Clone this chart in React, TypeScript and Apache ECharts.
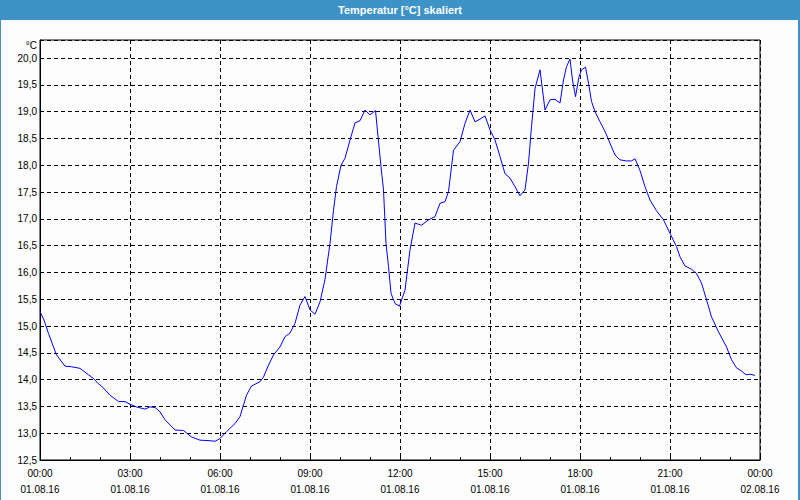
import React, { useEffect, useRef } from "react";
import * as echarts from "echarts";

const titleText = "Temperatur [°C] skaliert";
const unitText = "°C";

// minutes since 01.08.16 00:00
const minutes = [
  0, 8, 17, 27, 33, 50, 63, 80, 97, 107, 117, 123, 140, 157, 170, 180, 193, 210, 220, 230,
  240, 250, 270, 287, 303, 320, 340, 350, 360, 373, 390, 400, 407, 413, 423, 440, 447, 457,
  467, 480, 490, 500, 510, 520, 530, 540, 550, 560, 570, 580, 587, 593, 602, 610, 620, 630,
  640, 650, 660, 671, 682, 687, 692, 697, 702, 710, 719, 730, 740, 750, 763, 777, 790, 800,
  810, 817, 827, 840, 850, 860, 870, 880, 890, 900, 910, 920, 930, 940, 950, 960, 970, 977,
  983, 990, 1000, 1010, 1020, 1030, 1040, 1047, 1053, 1060, 1065, 1071, 1078, 1083, 1091,
  1097, 1103, 1110, 1120, 1130, 1140, 1150, 1160, 1173, 1183, 1190, 1200, 1210, 1220, 1233,
  1247, 1260, 1273, 1280, 1290, 1303, 1313, 1323, 1333, 1343, 1357, 1373, 1383, 1393, 1403,
  1412, 1420, 1430,
];

const temps = [
  15.27, 15.11, 14.86, 14.61, 14.46, 14.25, 14.24, 14.21, 14.09, 14.02, 13.92, 13.88, 13.71,
  13.59, 13.59, 13.54, 13.49, 13.45, 13.49, 13.48, 13.4, 13.25, 13.06, 13.05, 12.93, 12.87,
  12.86, 12.85, 12.9, 13.03, 13.18, 13.31, 13.53, 13.71, 13.88, 13.96, 14.05, 14.27, 14.46,
  14.61, 14.8, 14.87, 15.05, 15.39, 15.55, 15.3, 15.22, 15.45, 15.87, 16.54, 17.16, 17.6, 18.0,
  18.13, 18.47, 18.79, 18.83, 19.03, 18.94, 19.02, 17.97, 17.54, 16.54, 16.11, 15.61, 15.42,
  15.37, 15.67, 16.42, 16.92, 16.88, 16.98, 17.04, 17.29, 17.32, 17.51, 18.28, 18.44, 18.78,
  19.03, 18.81, 18.86, 18.92, 18.66, 18.47, 18.16, 17.84, 17.76, 17.6, 17.43, 17.54, 18.04,
  18.72, 19.43, 19.78, 19.03, 19.22, 19.23, 19.16, 19.59, 19.84, 19.98, 19.59, 19.28, 19.65,
  19.78, 19.83, 19.53, 19.19, 19.0, 18.81, 18.63, 18.41, 18.19, 18.1, 18.08, 18.08, 18.12,
  17.9, 17.6, 17.35, 17.15, 16.98, 16.73, 16.48, 16.29, 16.12, 16.06, 15.98, 15.8, 15.49,
  15.17, 14.89, 14.61, 14.37, 14.22, 14.16, 14.09, 14.1, 14.08,
];

const xTickTimes = ["00:00", "03:00", "06:00", "09:00", "12:00", "15:00", "18:00", "21:00", "00:00"];
const xTickDates = [
  "01.08.16", "01.08.16", "01.08.16", "01.08.16", "01.08.16",
  "01.08.16", "01.08.16", "01.08.16", "02.08.16",
];

const FONT = "'Liberation Sans', Arial, sans-serif";

export default function App() {
  const ref = useRef<HTMLDivElement>(null);

  useEffect(() => {
    if (!ref.current) return;
    const chart = echarts.init(ref.current, null, { renderer: "svg" });
    const data = minutes.map((m, i) => [m, temps[i]]);
    chart.setOption({
      animation: false,
      backgroundColor: "#fcfdfc",
      grid: {
        left: 40,
        right: 40,
        top: 40,
        bottom: 40,
        show: true,
        borderColor: "#000",
        borderWidth: 1,
        backgroundColor: "transparent",
      },
      graphic: [
        { type: "rect", shape: { x: 0, y: 0, width: 800, height: 20 }, style: { fill: "#3d92c8" }, z: 10 },
        { type: "rect", shape: { x: 0, y: 0, width: 1, height: 500 }, style: { fill: "#3d92c8" }, z: 10 },
        { type: "rect", shape: { x: 798, y: 0, width: 2, height: 500 }, style: { fill: "#3d92c8" }, z: 10 },
        {
          type: "text",
          x: 400,
          y: 10,
          z: 11,
          style: {
            text: titleText,
            fill: "#ffffff",
            font: `bold 11px ${FONT}`,
            textAlign: "center",
            textVerticalAlign: "middle",
          },
        },
        {
          type: "text",
          x: 37,
          y: 45,
          z: 11,
          style: {
            text: unitText,
            fill: "#000",
            font: `10px ${FONT}`,
            textAlign: "right",
            textVerticalAlign: "middle",
          },
        },
      ],
      xAxis: {
        type: "value",
        min: 0,
        max: 1440,
        interval: 180,
        axisLine: { show: true, lineStyle: { color: "#000", width: 1 } },
        axisTick: { show: true, inside: true, length: 3, lineStyle: { color: "#000" } },
        minorTick: { show: true, splitNumber: 3, length: 3, lineStyle: { color: "#000" } },
        splitLine: { show: true, lineStyle: { color: "#000", type: [4, 3], width: 1 } },
        axisLabel: {
          margin: 5,
          color: "#000",
          fontFamily: FONT,
          fontSize: 10,
          lineHeight: 16,
          showMinLabel: true,
          showMaxLabel: true,
          formatter: (v: number) => {
            const i = Math.round(v / 180);
            return `${xTickTimes[i]}\n${xTickDates[i]}`;
          },
        },
      },
      yAxis: {
        type: "value",
        min: 12.5,
        max: 20.336,
        interval: 0.5,
        axisLine: { show: true, lineStyle: { color: "#000", width: 1 } },
        axisTick: { show: false },
        splitLine: { show: true, lineStyle: { color: "#000", type: [4, 3], width: 1 } },
        axisLabel: {
          margin: 3,
          color: "#000",
          fontFamily: FONT,
          fontSize: 10,
          showMaxLabel: false,
          formatter: (v: number) => {
            if (Math.abs(v * 2 - Math.round(v * 2)) > 1e-6) return "";
            return v.toFixed(1).replace(".", ",");
          },
        },
      },
      series: [
        {
          type: "line",
          data,
          showSymbol: false,
          symbol: "none",
          lineStyle: { color: "#0000ff", width: 1 },
          itemStyle: { color: "#0000ff" },
        },
      ],
    });
    return () => chart.dispose();
  }, []);

  return (
    <div
      ref={ref}
      style={{ position: "fixed", left: 0, top: 0, width: 800, height: 500 }}
    />
  );
}
